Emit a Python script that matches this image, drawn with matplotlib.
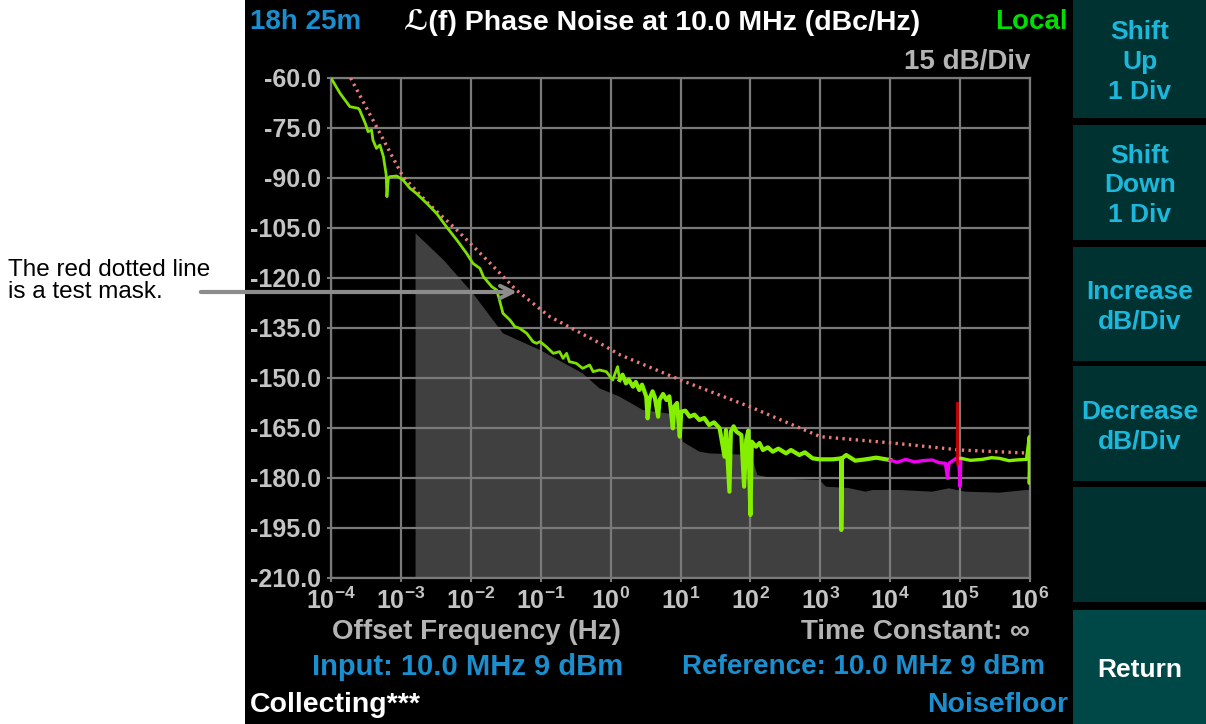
import numpy as np
import matplotlib.pyplot as plt
from matplotlib.patches import Rectangle
from matplotlib.ticker import FixedLocator, FixedFormatter, NullLocator

plt.rcParams['font.family'] = ['Liberation Sans', 'DejaVu Sans']
plt.rcParams['mathtext.fontset'] = 'custom'
plt.rcParams['mathtext.rm'] = 'Liberation Sans:bold'
plt.rcParams['mathtext.default'] = 'rm'

# measured phase noise (offset frequency as decade exponent, dBc/Hz)
trace_low_exp = [-4.00, -3.87, -3.73, -3.61, -3.59, -3.51, -3.47, -3.42, -3.40, -3.35,
                 -3.30, -3.25, -3.21, -3.20, -3.18, -3.16, -3.06, -2.97, -2.87, -2.78,
                 -2.63, -2.49, -2.35, -2.20, -2.06, -1.97, -1.87, -1.82, -1.70, -1.63,
                 -1.59, -1.54, -1.44, -1.37, -1.30, -1.20, -1.11, -1.06, -1.01, -0.92,
                 -0.82, -0.73, -0.68, -0.63, -0.59, -0.49, -0.40, -0.30, -0.25, -0.16,
                 -0.06, 0.03, 0.10]
trace_low_db = [-60.0, -64.6, -68.6, -69.1, -69.6, -73.6, -76.1, -75.6, -78.6, -81.1,
                -80.1, -83.6, -89.1, -95.6, -90.1, -89.6, -89.4, -90.6, -93.1, -94.6,
                -97.6, -100.6, -104.6, -108.6, -112.6, -115.6, -117.1, -119.6, -122.6, -123.6,
                -126.6, -130.6, -132.6, -134.6, -135.1, -136.6, -139.1, -139.6, -139.1, -140.6,
                -142.6, -142.1, -144.1, -142.6, -145.1, -145.6, -147.1, -146.1, -148.1, -147.6,
                -148.1, -150.6, -146.6]

trace_mid_exp = [0.13, 0.17, 0.22, 0.26, 0.32, 0.36, 0.41, 0.45, 0.51, 0.53,
                 0.56, 0.60, 0.63, 0.68, 0.70, 0.75, 0.80, 0.84, 0.89, 0.91,
                 0.95, 0.99, 1.01, 1.07, 1.13, 1.20, 1.27, 1.34, 1.41, 1.48,
                 1.56, 1.63, 1.65, 1.70, 1.72, 1.76, 1.80, 1.87, 1.91, 1.94,
                 1.97, 2.00, 2.02, 2.08, 2.13, 2.18, 2.25, 2.32, 2.40, 2.51,
                 2.58, 2.70, 2.78, 2.89, 2.99, 3.18, 3.30, 3.30, 3.31, 3.37,
                 3.50, 3.65, 3.80, 4.00]
trace_mid_db = [-150.6, -149.0, -151.6, -150.5, -152.6, -151.2, -153.6, -152.0, -155.6, -162.1,
                -156.1, -154.0, -155.6, -161.6, -156.6, -154.8, -156.6, -155.5, -165.1, -158.6,
                -157.5, -167.6, -160.1, -159.8, -161.6, -161.0, -162.6, -162.0, -164.1, -163.3,
                -165.1, -173.6, -165.6, -184.1, -166.1, -164.5, -166.1, -167.1, -182.6, -168.6,
                -165.8, -191.1, -169.1, -170.6, -169.5, -171.6, -170.8, -172.1, -171.2, -172.6,
                -171.6, -173.1, -172.3, -174.1, -174.4, -174.4, -174.1, -195.6, -174.1, -173.1,
                -174.8, -174.4, -173.9, -174.6]

# segment collected in the second pass (magenta)
pass2_exp = [4.00, 4.10, 4.22, 4.35, 4.46, 4.60, 4.70, 4.79, 4.82, 4.84, 4.91, 4.98, 5.00, 5.01]
pass2_db = [-174.6, -175.3, -174.4, -175.2, -174.8, -174.6, -175.4, -175.6, -180.1, -175.6,
            -174.6, -173.6, -182.6, -174.1]

tail_exp = [5.01, 5.15, 5.32, 5.45, 5.56, 5.70, 5.80, 5.95, 5.99, 5.99, 6.00]
tail_db = [-174.1, -174.7, -174.4, -173.9, -174.1, -174.8, -174.6, -174.4, -167.6, -181.6, -174.4]

spur_exp = [4.96, 4.96]
spur_db = [-157.6, -175.6]

# test mask
mask_exp = [-3.72, -3.35, -2.97, -2.60, -2.20, -1.75, -1.35, -0.87, -0.16, 0.13,
            1.00, 1.99, 3.00, 4.03, 5.00, 5.94, 6.00]
mask_db = [-60.0, -74.6, -89.6, -97.8, -105.6, -115.0, -123.6, -131.6, -139.5, -143.0,
           -150.6, -158.6, -167.6, -169.5, -171.6, -172.5, -172.5]

# instrument noise floor
floor_exp = [-2.79, -2.79, -2.39, -1.97, -1.54, -1.01, -0.40, -0.16, 0.13, 0.46,
             0.80, 0.99, 1.03, 1.27, 1.41, 2.01, 2.10, 2.32, 2.99, 3.08, 3.40,
             3.65, 3.75, 4.13, 4.60, 4.84, 5.08, 5.56, 5.94, 6.00, 6.00]
floor_db = [-210.0, -106.6, -114.6, -124.6, -136.6, -141.6, -148.6, -153.1, -155.6, -159.6,
            -160.6, -161.1, -169.1, -172.1, -172.6, -173.1, -179.1, -180.1, -180.6, -182.6, -183.0,
            -184.1, -183.6, -183.6, -184.1, -183.1, -184.1, -184.4, -183.6, -183.6, -210.0]

y_ticks = np.arange(-210, -59, 15)
x_ticks = np.arange(-4, 7)

W, H = 1206, 724
def fx(px):
    return px / W
def fy(py):
    return 1 - py / H

fig = plt.figure(figsize=(W / 100, H / 100), dpi=100, facecolor='white')
fig.patches.append(Rectangle((fx(245), 0), 1 - fx(245), 1, transform=fig.transFigure,
                             facecolor='black', edgecolor='none', zorder=0))

# soft keys on the right
keys = [(0, 118, 'Shift\nUp\n1 Div'), (125, 240, 'Shift\nDown\n1 Div'),
        (247, 361, 'Increase\ndB/Div'), (366, 481, 'Decrease\ndB/Div'),
        (487, 602, ''), (610, 724, 'Return')]
for top, bot, label in keys:
    last = label == 'Return'
    fig.patches.append(Rectangle((fx(1073), fy(bot)), 1 - fx(1073), (bot - top) / H,
                                 transform=fig.transFigure, edgecolor='none', zorder=1,
                                 facecolor='#004848' if last else '#003232'))
    fig.text(fx(1140), fy((top + bot) / 2 + 3), label, ha='center', va='center',
             fontsize=19, fontweight='bold', linespacing=1.3,
             color='white' if last else '#1cb8dc')

ax = fig.add_axes([fx(331), fy(578), (1030 - 331) / W, (578 - 78) / H], zorder=3)
ax.set_facecolor('black')

ax.fill(np.power(10.0, floor_exp), floor_db, color='#404040', lw=0, zorder=1)
ax.plot(np.power(10.0, mask_exp), mask_db, color='#ec7c7c', lw=2.4,
        linestyle=(0, (0.7, 1.3)), zorder=3)
trace_exp = trace_low_exp + trace_mid_exp
trace_db = trace_low_db + trace_mid_db
ax.plot(np.power(10.0, trace_exp), trace_db, color='#7ee000', lw=2.0, zorder=4)
ax.plot(np.power(10.0, trace_mid_exp), trace_mid_db, color='#84f000', lw=3.0, zorder=4)
ax.plot(np.power(10.0, pass2_exp), pass2_db, color='#f000f0', lw=2.4, zorder=4)
ax.plot(np.power(10.0, tail_exp), tail_db, color='#84f000', lw=2.4, zorder=4)
ax.plot(np.power(10.0, spur_exp), spur_db, color='#d00000', lw=2.0, zorder=5)

ax.set_xscale('log')
ax.set_xlim(1e-4, 1e6)
ax.set_ylim(-210, -60)
ax.xaxis.set_major_locator(FixedLocator(np.power(10.0, x_ticks)))
ax.xaxis.set_major_formatter(FixedFormatter(['$10^{%d}$' % e for e in x_ticks]))
ax.xaxis.set_minor_locator(NullLocator())
ax.yaxis.set_major_locator(FixedLocator(y_ticks))
ax.yaxis.set_major_formatter(FixedFormatter(['%.1f' % v for v in y_ticks]))
ax.tick_params(length=3, width=1.5, color='#7a7a7a', labelcolor='#c4c4c4',
               labelsize=18, pad=4)
for t in ax.get_yticklabels():
    t.set_fontweight('bold')
ax.grid(True, color='#7a7a7a', lw=1.6, zorder=2)
ax.set_axisbelow(False)
for s in ax.spines.values():
    s.set_color('#7a7a7a')
    s.set_linewidth(1.6)

# header and status lines
fig.text(fx(250), fy(22), '18h 25m', color='#1a8fd0', fontsize=20, fontweight='bold', va='center')
fig.text(fx(662), fy(22), '\u2112(f) Phase Noise at 10.0 MHz (dBc/Hz)', color='white',
         fontsize=20.5, fontweight='bold', va='center', ha='center')
fig.text(fx(1068), fy(22), 'Local', color='#00e000', fontsize=20, fontweight='bold',
         va='center', ha='right')
fig.text(fx(1030), fy(62), '15 dB/Div', color='#b4b4b4', fontsize=20, fontweight='bold',
         va='center', ha='right')
fig.text(fx(332), fy(632), 'Offset Frequency (Hz)', color='#b4b4b4', fontsize=20,
         fontweight='bold', va='center')
fig.text(fx(1030), fy(632), 'Time Constant: \u221e', color='#b4b4b4', fontsize=20,
         fontweight='bold', va='center', ha='right')
fig.text(fx(468), fy(667), 'Input: 10.0 MHz 9 dBm', color='#1a8fd0', fontsize=21,
         fontweight='bold', va='center', ha='center')
fig.text(fx(1045), fy(667), 'Reference: 10.0 MHz 9 dBm', color='#1a8fd0', fontsize=20,
         fontweight='bold', va='center', ha='right')
fig.text(fx(250), fy(705), 'Collecting***', color='white', fontsize=20.5,
         fontweight='bold', va='center')
fig.text(fx(1068), fy(705), 'Noisefloor', color='#1a8fd0', fontsize=20.5,
         fontweight='bold', va='center', ha='right')

# callout pointing at the mask
fig.text(fx(8), fy(281), 'The red dotted line\nis a test mask.', color='black',
         fontsize=17.5, va='center', linespacing=1.0)
ax.annotate('', xy=(10 ** -1.3, -124.2), xytext=(fx(198), fy(292)),
            textcoords='figure fraction', annotation_clip=False, zorder=6,
            arrowprops=dict(arrowstyle='->', color='#8c8c8c', lw=3, mutation_scale=22))

fig.savefig('out.png', dpi=100, facecolor=fig.get_facecolor())
